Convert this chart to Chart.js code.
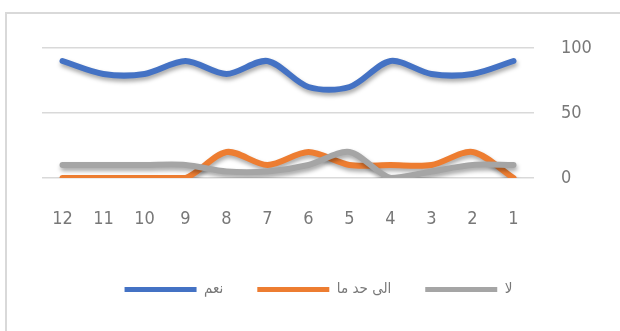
<!DOCTYPE html>
<html>
<head>
<meta charset="utf-8">
<script src="https://cdn.jsdelivr.net/npm/chart.js@4/dist/chart.umd.min.js"></script>
<style>
  html, body { margin: 0; padding: 0; background: #fff; }
  #wrap { width: 620px; height: 331px; position: relative; }
</style>
</head>
<body>
<div id="wrap"><canvas id="myChart"></canvas></div>
<script>
// months 1..12, shown right-to-left (12 on the left)
const months = ['1', '2', '3', '4', '5', '6', '7', '8', '9', '10', '11', '12']
const yesValues = [90, 80, 80, 90, 70, 70, 90, 80, 90, 80, 80, 90]
const somewhatValues = [0, 20, 10, 10, 10, 20, 10, 20, 0, 0, 0, 0]
const noValues = [10, 10, 5, 0, 20, 10, 5, 5, 10, 10, 10, 10]
const yTicks = [0, 50, 100]
const seriesNames = ['نعم', 'الى حد ما', 'لا']

const textColor = '#787878'
const fontFamily = "'DejaVu Sans Condensed', 'Open Sans', 'DejaVu Sans', sans-serif"

// soft drop shadow under the lines, like the office chart
const shadowPlugin = {
  id: 'lineShadow',
  beforeDatasetDraw (chart) {
    const ctx = chart.ctx
    ctx.save()
    ctx.shadowColor = 'rgba(0, 0, 0, 0.35)'
    ctx.shadowBlur = 4
    ctx.shadowOffsetX = 1
    ctx.shadowOffsetY = 3
  },
  afterDatasetDraw (chart) {
    chart.ctx.restore()
  }
}

// light frame round the chart
const framePlugin = {
  id: 'frame',
  beforeDraw (chart) {
    const ctx = chart.ctx
    ctx.save()
    ctx.strokeStyle = '#d9d9d9'
    ctx.lineWidth = 2
    ctx.strokeRect(6, 13, 700, 400)
    ctx.restore()
  }
}

const ctx = document.getElementById('myChart').getContext('2d')
const myChart = new Chart(ctx, {
  type: 'line',
  data: {
    labels: months,
    datasets: [{
      label: seriesNames[0],
      data: yesValues,
      borderColor: '#4472c4',
      backgroundColor: '#4472c4',
      order: 3
    }, {
      label: seriesNames[1],
      data: somewhatValues,
      borderColor: '#ed7d31',
      backgroundColor: '#ed7d31',
      order: 2
    }, {
      label: seriesNames[2],
      data: noValues,
      borderColor: '#a5a5a5',
      backgroundColor: '#a5a5a5',
      order: 1
    }]
  },
  options: {
    responsive: true,
    maintainAspectRatio: false,
    animation: false,
    layout: {
      padding: { left: 42, top: 48, right: 25, bottom: 24 }
    },
    elements: {
      line: { borderWidth: 6, tension: 0.3, borderCapStyle: 'round', borderJoinStyle: 'round' },
      point: { radius: 0 }
    },
    scales: {
      x: {
        reverse: true,
        offset: true,
        grid: { display: false, offset: true },
        border: { display: false },
        ticks: {
          color: textColor,
          font: { family: fontFamily, size: 18 },
          padding: 23,
          maxRotation: 0,
          autoSkip: false
        },
        afterFit (scale) { scale.height = 70 }
      },
      y: {
        position: 'right',
        min: 0,
        max: 100,
        afterBuildTicks (scale) {
          scale.ticks = yTicks.map(v => ({ value: v }))
        },
        grid: { color: '#d9d9d9', lineWidth: 1.5, drawTicks: false },
        border: { display: false },
        ticks: {
          color: textColor,
          font: { family: fontFamily, size: 18 },
          padding: 27
        },
        afterFit (scale) { scale.width = 61 }
      }
    },
    plugins: {
      tooltip: { enabled: false },
      legend: {
        position: 'bottom',
        labels: {
          sort: (a, b) => a.datasetIndex - b.datasetIndex,
          generateLabels (chart) {
            const items = Chart.defaults.plugins.legend.labels.generateLabels(chart)
            items.forEach(item => { item.lineWidth = 0 })
            return items
          },
          boxWidth: 72,
          boxHeight: 5,
          padding: 34,
          color: textColor,
          font: { family: fontFamily, size: 15 }
        }
      }
    }
  },
  plugins: [shadowPlugin, framePlugin]
})
</script>
</body>
</html>
